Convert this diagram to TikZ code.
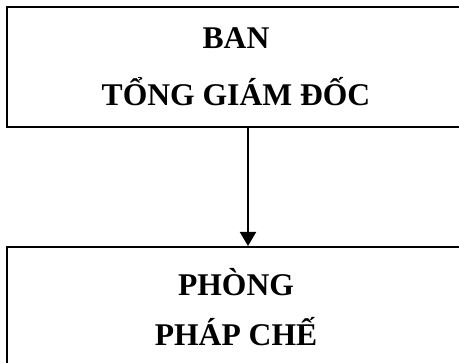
\documentclass[tikz,border=0pt]{standalone}
\usepackage{fontspec}
\setmainfont{Liberation Serif}
\usetikzlibrary{arrows.meta,positioning}
\tikzset{every picture/.style={line width=2pt}}
\tikzset{
  box/.style={draw, rectangle, minimum width=458pt, minimum height=120pt,
    inner sep=0pt, align=center},
}

\begin{document}
\begin{tikzpicture}[x=1pt,y=-1pt]
    \useasboundingbox (0,0) rectangle (459,363);
    \node[box, font=\fontsize{31.6}{57}\selectfont\bfseries] (ban) at (236,67)
        {BAN\\TỔNG GIÁM ĐỐC};
    \node[box, font=\fontsize{31.6}{50}\selectfont\bfseries] (phong) at (236,307)
        {PHÒNG\\PHÁP CHẾ};
    \draw[-{Triangle[length=14pt,width=16pt]}]
        ([xshift=12pt]ban.south) -- ([xshift=12pt]phong.north);
\end{tikzpicture}
\end{document}
